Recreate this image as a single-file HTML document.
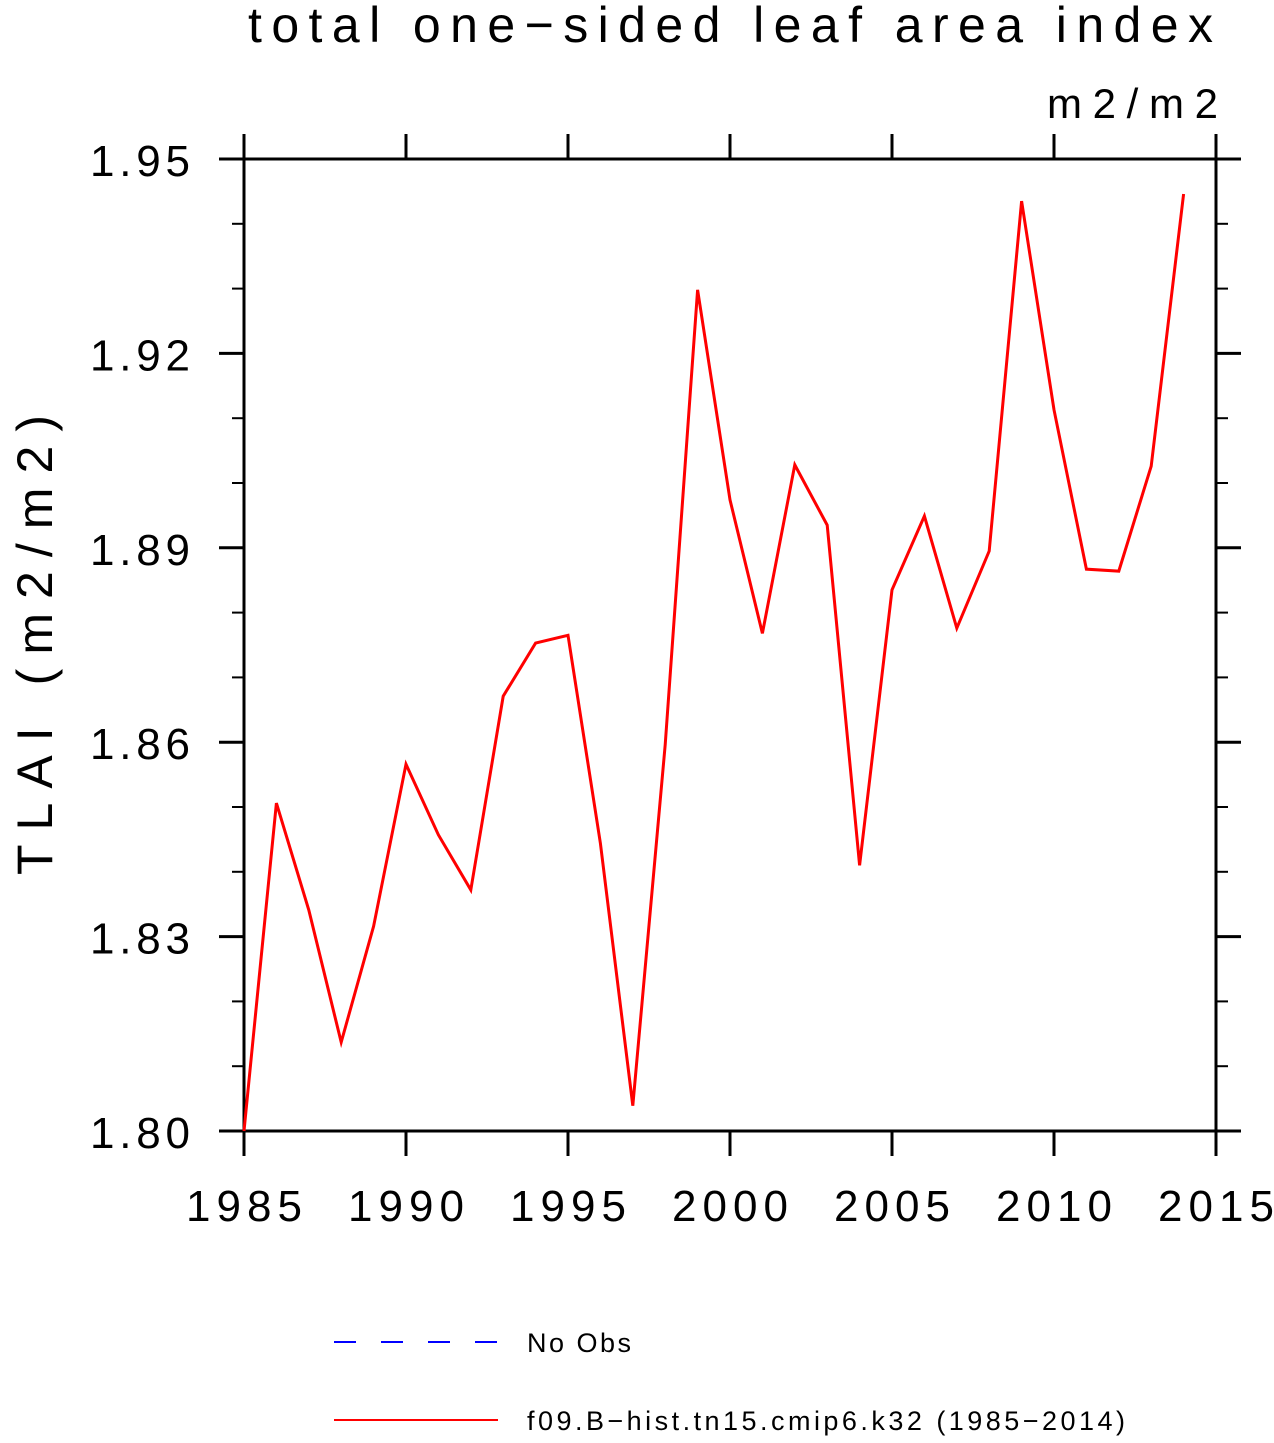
<!DOCTYPE html>
<html><head><meta charset="utf-8"><style>
body{margin:0;background:#fff;}
svg text{font-family:"Liberation Sans",sans-serif;}
</style></head><body>
<svg id="chart" width="1274" height="1438" xmlns="http://www.w3.org/2000/svg">
<text x="248" y="42" font-size="50" textLength="965" lengthAdjust="spacing">total one−sided leaf area index</text>
<text x="1047" y="118" font-size="42" textLength="171" lengthAdjust="spacing">m2/m2</text>
<text transform="translate(52,875) rotate(-90)" font-size="50" textLength="460" lengthAdjust="spacing">TLAI  (m2/m2)</text>
<g id="axes"></g>
<g id="series"></g>
<g>
<line x1="334" y1="1342" x2="498" y2="1342" stroke="#0000ff" stroke-width="2" stroke-dasharray="22,25"/>
<text x="527" y="1352" font-size="27" textLength="104" lengthAdjust="spacing">No Obs</text>
<line x1="334" y1="1420" x2="498" y2="1420" stroke="#ff0000" stroke-width="2"/>
<text x="527" y="1430" font-size="27" textLength="598" lengthAdjust="spacing">f09.B−hist.tn15.cmip6.k32 (1985−2014)</text>
</g>
</svg>
<script>
const years=[1985,1986,1987,1988,1989,1990,1991,1992,1993,1994,1995,1996,1997,1998,1999,2000,2001,2002,2003,2004,2005,2006,2007,2008,2009,2010,2011,2012,2013,2014];
const tlai=[1.800,1.8506,1.8341,1.8137,1.8316,1.8566,1.8457,1.8372,1.8671,1.8753,1.8765,1.8444,1.8039,1.8596,1.9298,1.8974,1.8768,1.9028,1.8935,1.8410,1.8835,1.8949,1.8776,1.8895,1.9435,1.9113,1.8867,1.8864,1.9026,1.9446];
const xTicks=[1985,1990,1995,2000,2005,2010,2015];
const yTicks=["1.80","1.83","1.86","1.89","1.92","1.95"];
const yMinor=[1.81,1.82,1.84,1.85,1.87,1.88,1.90,1.91,1.93,1.94];
const X0=244,X1=1216,Y0=1131,Y1=159,xmin=1985,xmax=2015,ymin=1.80,ymax=1.95;
const xs=v=>X0+(v-xmin)/(xmax-xmin)*(X1-X0);
const ys=v=>Y0-(v-ymin)/(ymax-ymin)*(Y0-Y1);
const NS="http://www.w3.org/2000/svg";
const axes=document.getElementById('axes'),ser=document.getElementById('series');
function mk(p,tag,a){const e=document.createElementNS(NS,tag);for(const k in a)e.setAttribute(k,a[k]);p.appendChild(e);return e;}
const fr=mk(axes,'rect',{x:X0,y:Y1,width:X1-X0,height:Y0-Y1,fill:'none',stroke:'#000','stroke-width':3});


xTicks.forEach(t=>{const x=xs(t);
const a=mk(axes,'line',{x1:x,x2:x,y1:Y1-25,y2:Y1,stroke:'#000','stroke-width':3});


const b=mk(axes,'line',{x1:x,x2:x,y1:Y0,y2:Y0+25,stroke:'#000','stroke-width':3});


const l=mk(axes,'text',{x:x-58,y:1221,'font-size':44,textLength:116,lengthAdjust:'spacing'});l.textContent=t;


});
yTicks.forEach(t=>{const y=ys(+t);
const a=mk(axes,'line',{x1:X0-25,x2:X0,y1:y,y2:y,stroke:'#000','stroke-width':3});


const b=mk(axes,'line',{x1:X1,x2:X1+25,y1:y,y2:y,stroke:'#000','stroke-width':3});


const l=mk(axes,'text',{x:90,y:y+17,'font-size':44,textLength:100,lengthAdjust:'spacing'});l.textContent=t;


});
yMinor.forEach(t=>{const y=ys(t);
const a=mk(axes,'line',{x1:X0-12,x2:X0,y1:y,y2:y,stroke:'#000','stroke-width':2});


const b=mk(axes,'line',{x1:X1,x2:X1+12,y1:y,y2:y,stroke:'#000','stroke-width':2});


});
const pl=mk(ser,'polyline',{points:years.map((y,i)=>xs(y)+','+ys(tlai[i])).join(' '),fill:'none',stroke:'#ff0000','stroke-width':3,'stroke-linejoin':'miter'});


</script>
</body></html>
